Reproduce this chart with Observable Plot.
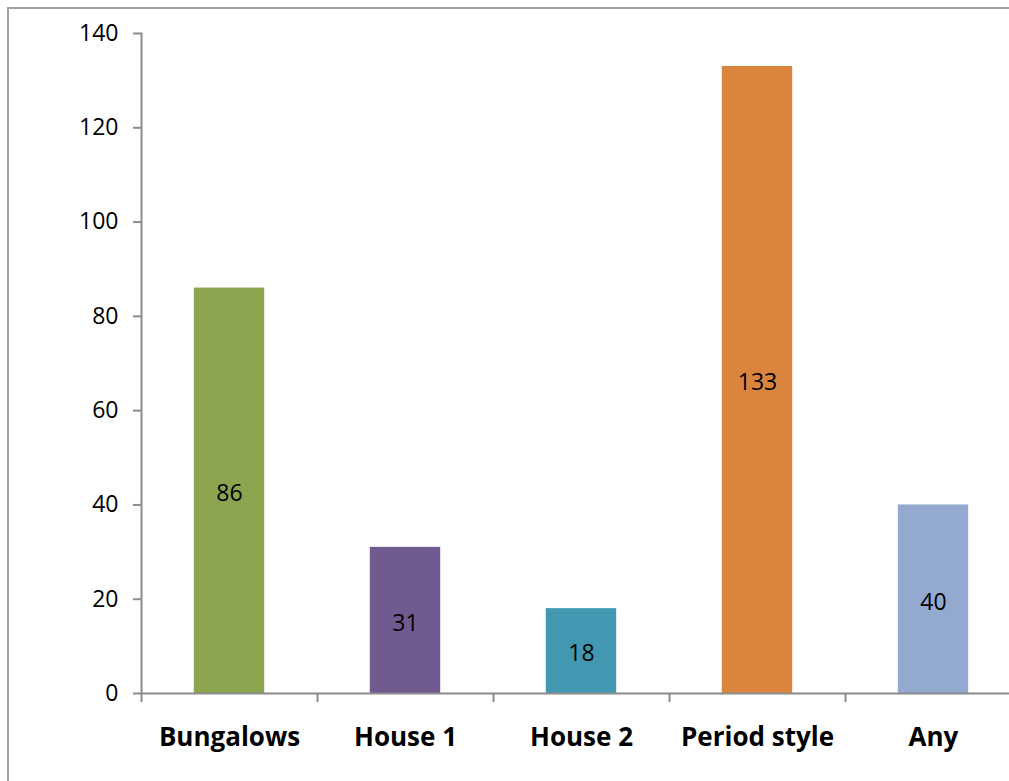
<!DOCTYPE html>
<html>
<head>
<meta charset="utf-8">
<script src="https://cdn.jsdelivr.net/npm/d3@7"></script>
<script src="https://cdn.jsdelivr.net/npm/@observablehq/plot@0.6"></script>
<style>
  html, body { margin: 0; padding: 0; background: #fff; overflow: hidden; }
  #wrap { position: relative; width: 1009px; height: 781px; overflow: hidden; }
  #frame { position: absolute; left: 7px; top: 7px; width: 1100px; height: 900px;
           border: 2px solid #a3a3a3; box-sizing: border-box; pointer-events: none; }
  #chart { position: absolute; left: 0; top: 0; width: 1021px; }
  #chart svg { font-family: "Open Sans", sans-serif; max-width: none !important; }
</style>
</head>
<body>
<div id="wrap">
  <div id="chart"></div>
  <div id="frame"></div>
</div>
<script>
// Property types requested
const categories = ["Bungalows", "House 1", "House 2", "Period style", "Any"];
const counts = [86, 31, 18, 133, 40];
const barColors = ["#8aa54e", "#715a8f", "#4298b0", "#db843d", "#93a9cf"];
const yTicks = [0, 20, 40, 60, 80, 100, 120, 140];

const data = categories.map((c, i) => ({ category: c, count: counts[i] }));

const W = 1021, H = 781;
const mLeft = 141, mRight = 0, mTop = 33, mBottom = 88;
const band = (W - mLeft - mRight) / categories.length;
const barInset = band * 0.3;
const axisColor = "#8c8c8c";

const chart = Plot.plot({
  width: W,
  height: H,
  marginLeft: mLeft,
  marginRight: mRight,
  marginTop: mTop,
  marginBottom: mBottom,
  style: { background: "transparent", overflow: "visible", maxWidth: "none" },
  x: { domain: categories, padding: 0 },
  y: { domain: [0, 140] },
  color: { domain: categories, range: barColors },
  marks: [
    Plot.barY(data, {
      x: "category", y: "count", fill: "category",
      insetLeft: barInset, insetRight: barInset
    }),
    Plot.text(data, {
      x: "category", y: d => d.count / 2, text: d => String(d.count),
      fontSize: 23, fill: "#000", dy: 3
    }),
    // value axis
    Plot.axisY({
      ticks: yTicks, tickSize: 8, tickPadding: 15, fontSize: 23,
      stroke: axisColor, strokeWidth: 2, color: "#000", label: null
    }),
    Plot.frame({ anchor: "left", stroke: axisColor, strokeWidth: 2 }),
    Plot.ruleY([0], { stroke: axisColor, strokeWidth: 2 }),
    // category separators below the baseline
    Plot.axisX({
      tickSize: 9, text: null, dx: -band / 2,
      stroke: axisColor, strokeWidth: 2, label: null
    }),
    // category labels
    Plot.axisX({
      tickSize: 0, tickPadding: 34, fontSize: 26, fontWeight: "bold",
      color: "#000", label: null
    })
  ]
});

chart.style.maxWidth = "none";
chart.style.width = W + "px";
chart.style.height = H + "px";
document.getElementById("chart").appendChild(chart);
</script>
</body>
</html>
